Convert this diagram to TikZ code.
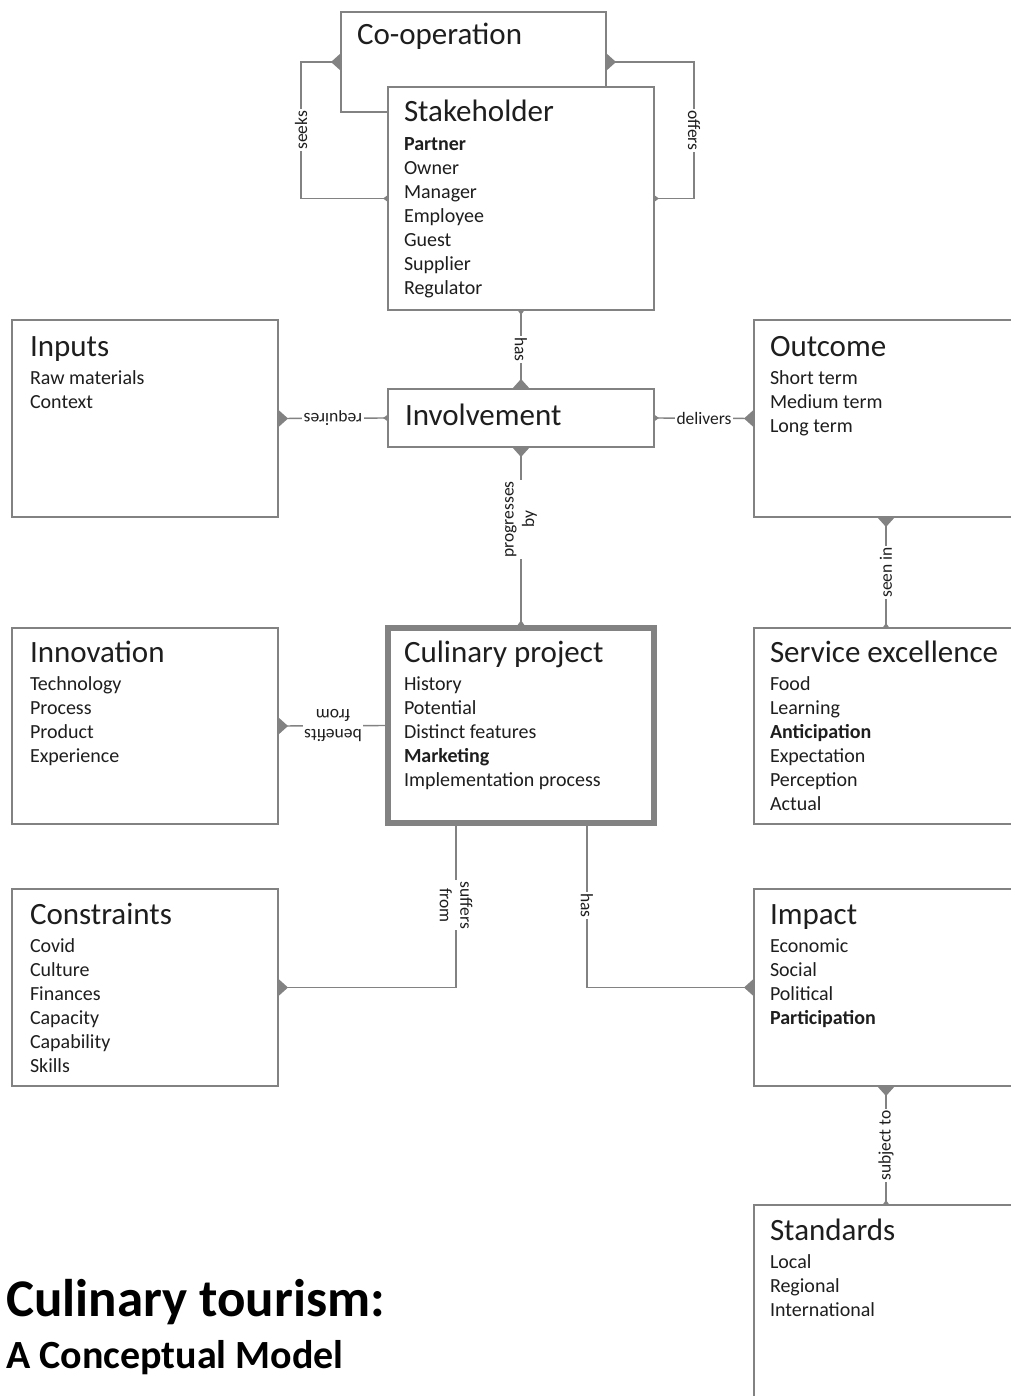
\documentclass[tikz,border=0pt]{standalone}
\usepackage{fontspec}
\setmainfont{Carlito}
\usetikzlibrary{calc}
\definecolor{ln}{HTML}{828282}
\definecolor{tx}{HTML}{1E1E1E}
\tikzset{
  box/.style={draw=ln, line width=1.4pt, fill=white, inner sep=0pt, outer sep=0pt, anchor=north west},
  conn/.style={draw=ln, line width=1.4pt},
  lbl/.style={fill=white, inner sep=1.5pt, font=\fontsize{17.5}{20.5}\selectfont, text=tx, align=center},
  mk/.style={fill=ln},
  content/.style={anchor=base west, inner sep=0pt, outer sep=0pt, text=tx},
}
\newcommand\boxcontent[2]{\parbox[t]{240pt}{\fontsize{31}{36}\selectfont #1\par\vspace{4.5pt}\fontsize{20}{24}\selectfont #2}}
\newcommand\mkL[1]{\fill[mk,shift={(#1)}] (0,-9) -- (-10,0) -- (0,9) -- cycle;}
\newcommand\mkR[1]{\fill[mk,shift={(#1)}] (0,-9) -- (10,0) -- (0,9) -- cycle;}
\newcommand\mkU[1]{\fill[mk,shift={(#1)}] (-9,0) -- (0,-10) -- (9,0) -- cycle;}
\newcommand\mkD[1]{\fill[mk,shift={(#1)}] (-9,0) -- (0,10) -- (9,0) -- cycle;}
\newcommand\smL[1]{\fill[mk,shift={(#1)}] (0,-3.5) -- (-5,0) -- (0,3.5) -- cycle;}
\newcommand\smR[1]{\fill[mk,shift={(#1)}] (0,-3.5) -- (5,0) -- (0,3.5) -- cycle;}
\newcommand\smU[1]{\fill[mk,shift={(#1)}] (-3.5,0) -- (0,-5) -- (3.5,0) -- cycle;}
\newcommand\smD[1]{\fill[mk,shift={(#1)}] (-3.5,0) -- (0,5) -- (3.5,0) -- cycle;}
\begin{document}
\begin{tikzpicture}[x=1pt,y=-1pt]
\useasboundingbox[fill=white] (0,0) rectangle (1010,1396);
% boxes
\node[box, minimum width=265pt, minimum height=100pt] (coop) at (341,12) {};
\node[box, minimum width=266pt, minimum height=223pt] (stake) at (388,87) {};
\node[box, minimum width=266pt, minimum height=197pt] (inputs) at (12,320) {};
\node[box, minimum width=266pt, minimum height=58pt] (inv) at (388,389) {};
\node[box, minimum width=264pt, minimum height=197pt] (outcome) at (754,320) {};
\node[box, minimum width=266pt, minimum height=196pt] (innov) at (12,628) {};
\node[box, line width=5.5pt, minimum width=266pt, minimum height=195pt] (cul) at (388,628) {};
\node[box, minimum width=264pt, minimum height=196pt] (service) at (754,628) {};
\node[box, minimum width=266pt, minimum height=197pt] (cons) at (12,889) {};
\node[box, minimum width=264pt, minimum height=197pt] (impact) at (754,889) {};
\node[box, minimum width=264pt, minimum height=220pt] (standards) at (754,1205) {};
% contents
\node[content] (t-coop) at (357,45) {\fontsize{31}{36}\selectfont Co-operation};
\node[content] (t-stake) at (404,122) {\boxcontent{Stakeholder}{\textbf{Partner}\\Owner\\Manager\\Employee\\Guest\\Supplier\\Regulator}};
\node[content] (t-inputs) at (30,356) {\boxcontent{Inputs}{Raw materials\\Context}};
\node[content] (t-inv) at (405,425) {\fontsize{31}{36}\selectfont Involvement};
\node[content] (t-outcome) at (770,356) {\boxcontent{Outcome}{Short term\\Medium term\\Long term}};
\node[content] (t-innov) at (30,662) {\boxcontent{Innovation}{Technology\\Process\\Product\\Experience}};
\node[content] (t-cul) at (404,662) {\boxcontent{Culinary project}{History\\Potential\\Distinct features\\\textbf{Marketing}\\Implementation process}};
\node[content] (t-service) at (770,662) {\boxcontent{Service excellence}{Food\\Learning\\\textbf{Anticipation}\\Expectation\\Perception\\Actual}};
\node[content] (t-cons) at (30,924) {\boxcontent{Constraints}{Covid\\Culture\\Finances\\Capacity\\Capability\\Skills}};
\node[content] (t-impact) at (770,924) {\boxcontent{Impact}{Economic\\Social\\Political\\\textbf{Participation}}};
\node[content] (t-standards) at (770,1240) {\boxcontent{Standards}{Local\\Regional\\International}};
% connectors
\draw[conn] (coop.west) -- ++(-40,0) |- node[lbl, rotate=90, pos=0.25] {seeks} (stake.west);
\draw[conn] (coop.east) -- ++(88,0) |- node[lbl, rotate=-90, pos=0.25] {offers} (stake.east);
\draw[conn] (stake.south) -- node[lbl, rotate=-90] {has} (inv.north);
\draw[conn] (inv.south) -- node[lbl, rotate=90, pos=0.4] {progresses\\by} (cul.north);
\draw[conn] (inv.west) -- node[lbl, rotate=180] {requires} (inputs.east);
\draw[conn] (inv.east) -- node[lbl] {delivers} (outcome.west);
\draw[conn] (outcome.south) -- node[lbl, rotate=90] {seen in} (service.north);
\draw[conn] (cul.west) -- node[lbl, rotate=180] {benefits\\from} (innov.east);
\draw[conn] ([xshift=-65pt]cul.south) |- node[lbl, rotate=-90, pos=0.25] {suffers\\from} (cons.east);
\draw[conn] ([xshift=66pt]cul.south) |- node[lbl, rotate=-90, pos=0.25] {has} (impact.west);
\draw[conn] (impact.south) -- node[lbl, rotate=90] {subject to} (standards.north);
% end markers
\mkL{coop.west} \smL{stake.west}
\mkR{coop.east} \smR{stake.east}
\smD{stake.south} \mkU{inv.north}
\mkD{inv.south} \smU{$(cul.north)+(0,-2.75)$}
\mkR{inputs.east} \smL{inv.west}
\smR{inv.east} \mkL{outcome.west}
\mkD{outcome.south} \smU{service.north}
\mkR{innov.east}
\mkR{cons.east}
\mkL{impact.west}
\mkD{impact.south} \smU{standards.north}
% title
\node[anchor=base west, inner sep=0pt, font=\bfseries\fontsize{53}{60}\selectfont] (title1) at (6,1316) {Culinary tourism:};
\node[anchor=base west, inner sep=0pt, font=\bfseries\fontsize{40}{46}\selectfont] (title2) at (6,1368) {A Conceptual Model};
\end{tikzpicture}
\end{document}
